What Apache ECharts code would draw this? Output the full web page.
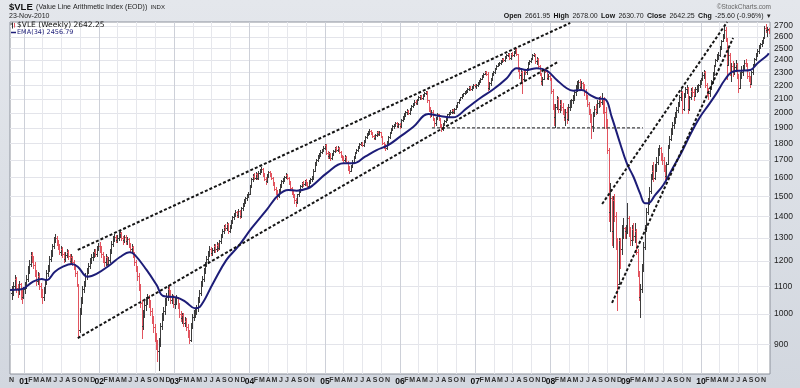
<!DOCTYPE html>
<html><head><meta charset="utf-8">
<script src="https://cdn.jsdelivr.net/npm/echarts@6.0.0/dist/echarts.min.js"></script>
<style>html,body{margin:0;padding:0;background:#dadee5}#c{width:800px;height:388px}</style>
</head><body><div id="c"></div>
<script>
// ---- weekly bars: close / high / low, one set per calendar year ----
const c2000 = [1075,1100,1130,1095,1085,1110,1070,1060,1090];
const h2000 = [1100,1118,1145,1135,1108,1122,1112,1085,1098];
const l2000 = [1052,1066,1092,1078,1062,1072,1052,1040,1055];

const c2001 = [1100,1130,1165,1190, 1225,1210,1185,1150, 1120,1140,1100,1075,1060, 1085,1120,1150,1170, 1210,1230,1265,1290,1300, 1280,1265,1240,1250, 1230,1210,1225,1240, 1220,1200,1215,1195,1180, 1150,1110,945, 1010,1050,1090,1110,1140,1160,1180,1200,1215,1225,1240,1230,1255,1265];
const h2001 = [1115,1145,1180,1205, 1240,1238,1220,1195, 1162,1155,1150,1112,1090, 1098,1130,1162,1182, 1220,1245,1275,1302,1318, 1310,1292,1272,1262, 1258,1240,1238,1252, 1248,1230,1228,1222,1205, 1188,1160,1080, 1020,1060,1100,1122,1150,1172,1192,1212,1228,1238,1252,1250,1265,1278];
const l2001 = [1075,1092,1120,1150, 1180,1195,1170,1138, 1105,1108,1090,1060,1040, 1048,1075,1108,1138, 1160,1200,1222,1255,1280, 1268,1250,1228,1225, 1218,1198,1200,1215, 1210,1190,1190,1185,1168, 1140,1100,925, 940,1000,1040,1078,1100,1130,1150,1170,1192,1205,1215,1220,1222,1248];

const c2002 = [1250,1230,1210,1195,1215,1190,1205, 1240,1275,1295,1305,1290, 1300,1315,1320,1300,1290, 1305,1285,1295,1270,1250,1260, 1230,1195,1170,1140,1100, 1040,960, 1000,1030,1045,1055,1040,1010, 980,955,925,900, 880,905, 960,990,1010,1040,1060,1090,1075,1050,1060,1035];
const h2002 = [1280,1262,1240,1222,1228,1222,1215, 1250,1285,1308,1318,1312, 1312,1325,1330,1326,1308, 1315,1312,1305,1300,1278,1272, 1265,1238,1205,1180,1150, 1108,1050, 1015,1045,1060,1070,1068,1050, 1020,992,965,935, 915,920, 970,1005,1025,1055,1075,1105,1100,1085,1072,1068];
const l2002 = [1238,1218,1195,1180,1185,1178,1182, 1198,1232,1265,1285,1280, 1282,1292,1305,1290,1275, 1282,1275,1272,1260,1238,1240, 1218,1185,1158,1125,1085, 1025,920, 950,990,1015,1035,1025,998, 970,940,912,885, 850,825, 895,950,978,1000,1030,1050,1062,1040,1038,1025];

const c2003 = [1045,1055,1030,1000,985,995,970,975,955, 935,915,960, 990,1000,1010, 1020,1050,1075, 1110,1130,1160,1185,1210, 1230,1250,1235,1245,1265,1250,1270,1255, 1285,1310,1330, 1350,1345,1365,1330,1350, 1375,1395,1410,1420,1405, 1425,1400,1440,1460, 1475,1490,1505,1515];
const h2003 = [1062,1068,1062,1038,1010,1005,1002,990,985, 965,945,970, 1000,1015,1022, 1032,1060,1085, 1120,1140,1170,1195,1220, 1242,1262,1258,1255,1275,1272,1280,1278, 1292,1318,1340, 1360,1362,1375,1370,1360, 1382,1402,1418,1430,1428, 1435,1432,1448,1468, 1485,1498,1512,1524];
const l2003 = [1022,1035,1020,990,975,970,960,958,945, 925,905,910, 952,980,990, 1000,1012,1042, 1068,1100,1122,1150,1178, 1200,1222,1225,1225,1238,1240,1242,1245, 1250,1278,1302, 1322,1335,1338,1322,1325, 1345,1368,1388,1402,1395, 1398,1392,1395,1432, 1452,1468,1482,1498];

const c2004 = [1555,1590,1610,1600, 1620,1600,1625,1640, 1650,1620,1595,1580,1610, 1630,1620,1600,1570,1540, 1525,1500,1530, 1560,1580,1590,1605,1615, 1600,1575,1545,1520,1505, 1480,1470,1510, 1530,1555,1570,1565,1580, 1570,1555,1580,1590,1600, 1640,1680,1700,1720,1735, 1750,1760,1775,1790];
const h2004 = [1562,1598,1620,1625, 1630,1628,1635,1650, 1660,1655,1628,1605,1618, 1640,1638,1625,1605,1578, 1552,1532,1538, 1568,1588,1598,1612,1625, 1620,1605,1580,1552,1528, 1510,1490,1515, 1538,1562,1578,1580,1588, 1590,1578,1585,1598,1610, 1648,1688,1708,1728,1742, 1758,1768,1782,1798];
const l2004 = [1510,1548,1582,1590, 1592,1592,1595,1618, 1630,1612,1585,1568,1575, 1602,1610,1592,1562,1532, 1512,1485,1495, 1525,1552,1572,1582,1598, 1592,1565,1538,1512,1495, 1465,1450,1465, 1502,1525,1548,1555,1558, 1562,1545,1548,1572,1580, 1595,1635,1672,1692,1712, 1725,1740,1752,1765];

const c2005 = [1745,1725,1740,1710, 1735,1755,1770,1760, 1775,1750,1725,1710,1700, 1720,1690,1655,1640, 1665,1690,1720,1745,1760, 1780,1795,1800,1790, 1815,1840,1860,1870,1880, 1865,1850,1835,1855, 1875,1860,1870,1845, 1805,1785,1770,1810, 1840,1870,1895,1910,1920, 1930,1915,1925,1910];
const h2005 = [1795,1752,1748,1745, 1742,1762,1778,1782, 1785,1780,1755,1732,1722, 1728,1725,1695,1668, 1672,1698,1725,1750,1768, 1786,1802,1810,1808, 1820,1846,1866,1878,1890, 1886,1872,1856,1862, 1882,1880,1878,1875, 1850,1812,1798,1816, 1846,1875,1900,1916,1928, 1938,1936,1932,1930];
const l2005 = [1738,1712,1715,1700, 1705,1728,1748,1752, 1755,1742,1718,1700,1690, 1695,1682,1645,1628, 1635,1660,1685,1715,1740, 1755,1772,1788,1782, 1785,1810,1835,1852,1862, 1858,1842,1828,1830, 1850,1852,1852,1838, 1798,1775,1760,1765, 1805,1835,1865,1888,1902, 1912,1908,1905,1900];

const c2006 = [1950,1975,1990,2005, 2015,2000,2030,2050, 2065,2080,2070,2095,2110, 2120,2105,2130,2140,2150, 2090,2030,1990, 2010,1960,1930,1965, 1990,1960,1920,1895,1925, 1945,1960,1990,2000, 2010,2020,2005,2030,2050, 2075,2095,2110,2125, 2140,2150,2160,2175, 2185,2175,2190,2200,2195];
const h2006 = [1958,1982,2000,2012, 2025,2022,2036,2056, 2072,2088,2090,2100,2118, 2128,2130,2136,2148,2160, 2155,2095,2040, 2022,2018,1968,1972, 1998,1995,1966,1928,1932, 1952,1968,1996,2008, 2018,2028,2026,2035,2056, 2080,2100,2116,2132, 2146,2158,2168,2180, 2192,2192,2196,2208,2210];
const l2006 = [1905,1945,1962,1980, 1995,1990,1995,2022, 2042,2058,2062,2065,2088, 2102,2098,2100,2122,2132, 2080,2015,1975, 1978,1950,1915,1922, 1958,1950,1905,1882,1888, 1918,1938,1955,1982, 1992,2002,1998,2000,2025, 2045,2070,2088,2105, 2118,2132,2142,2152, 2168,2166,2168,2182,2186];

const c2007 = [2200,2220,2235,2250, 2270,2290,2305,2290, 2180,2215,2250,2290,2300, 2330,2355,2370,2380, 2395,2410,2400,2425,2440, 2450,2420,2455,2440, 2470,2490,2450,2330, 2280,2300,2250,2310, 2300,2330,2380,2395,2410, 2440,2450,2390,2410, 2350,2290,2230,2250, 2320,2310,2260,2270,2250];
const h2007 = [2212,2228,2242,2258, 2276,2296,2312,2315, 2300,2222,2256,2296,2310, 2336,2362,2378,2388, 2402,2418,2420,2432,2448, 2460,2456,2462,2464, 2478,2502,2498,2455, 2345,2330,2310,2318, 2322,2338,2386,2402,2420, 2448,2462,2455,2425, 2418,2360,2298,2262, 2328,2335,2318,2285,2282];
const l2007 = [2180,2192,2212,2228, 2245,2265,2285,2282, 2165,2170,2205,2242,2282, 2295,2325,2348,2362, 2372,2388,2390,2395,2418, 2432,2410,2412,2430, 2435,2462,2440,2315, 2260,2230,2140,2240, 2285,2290,2322,2372,2388, 2405,2432,2380,2370, 2340,2280,2210,2200, 2245,2300,2250,2245,2240];

const c2008 = [2160,2050,1970,2040, 2100,2030,2060,2040, 2000,1970,2010,1960,2040, 2060,2090,2110,2150, 2180,2200,2225,2190,2215, 2200,2150,2120,2060, 2010,1960,1910,1990, 2030,2010,2070,2090, 2080,2100,2060,2010, 1950,1760,1420,1490, 1330,1480,1400,1290, 1110,1290,1250,1320, 1345,1330];
const h2008 = [2260,2170,2060,2060, 2120,2110,2090,2090, 2070,2030,2030,2040,2060, 2090,2100,2130,2160, 2200,2230,2240,2245,2230, 2225,2210,2170,2130, 2080,2030,1990,2010, 2050,2060,2090,2110, 2120,2140,2100,2110, 2040,1960,1770,1570, 1500,1500,1510,1420, 1300,1300,1300,1360, 1390,1350];
const l2008 = [2140,2030,1920,1906, 2030,2010,2010,2020, 1990,1950,1920,1930,1950, 2020,2040,2070,2090, 2130,2160,2180,2170,2180, 2170,2130,2100,2050, 1990,1940,1834,1880, 1980,1990,2000,2040, 2050,2060,2000,1900, 1900,1740,1380,1330, 1270,1260,1380,1250, 1014,1110,1170,1230, 1300,1300];

const c2009 = [1330,1390,1330,1290,1340,1310,1330,1240,1150,1060, 1090,1170,1260,1330,1420,1470,1530,1600,1640,1600, 1660,1690,1750,1770,1720,1700,1650,1610,1680,1780, 1830,1880,1920,1950,1990,2020,2060,2110,2150,2030, 2120,2170,2180,2030,2110,2160,2150,2120,2170,2180, 2200,2220];
const h2009 = [1360,1466,1400,1350,1360,1370,1370,1340,1250,1160, 1110,1190,1280,1360,1440,1490,1550,1620,1670,1690, 1680,1720,1770,1790,1780,1740,1720,1670,1690,1790, 1850,1900,1940,1970,2010,2040,2080,2130,2170,2160, 2140,2190,2200,2190,2120,2180,2190,2170,2190,2200, 2210,2240];
const l2009 = [1300,1320,1310,1270,1270,1290,1280,1230,1140,1050, 990,1080,1160,1250,1330,1410,1460,1520,1590,1580, 1590,1640,1680,1730,1700,1680,1640,1590,1600,1680, 1770,1820,1860,1900,1930,1970,2010,2050,2090,2000, 2020,2110,2140,2000,2020,2100,2120,2090,2120,2150, 2160,2190];

const c2010 = [2250,2280,2300,2200,2150,2140,2180,2230,2290,2350, 2400,2430,2440,2500,2560,2600,2660,2580,2360,2440, 2300,2350,2300,2340,2370,2270,2180,2290,2300,2340, 2380,2370,2270,2250,2210,2300,2360,2410,2450,2480, 2520,2540,2560,2590,2680,2660,2667.85,2642.25];
const h2010 = [2260,2300,2320,2310,2220,2180,2190,2240,2300,2360, 2410,2450,2470,2520,2570,2630,2710,2690,2590,2500, 2460,2380,2390,2380,2400,2380,2290,2300,2350,2360, 2400,2410,2380,2300,2270,2310,2370,2420,2460,2490, 2530,2550,2570,2600,2700,2715,2690,2678];
const l2010 = [2210,2240,2260,2190,2130,2100,2120,2170,2220,2280, 2350,2390,2410,2430,2490,2560,2590,2560,2250,2380, 2280,2230,2270,2290,2310,2260,2150,2180,2260,2280, 2320,2350,2260,2230,2190,2210,2290,2350,2400,2430, 2460,2500,2520,2550,2590,2640,2610,2630.7];

// first weekly bar (Friday) of each year block
const YEAR_BLOCKS = [
  ['2000-11-03', c2000, h2000, l2000], ['2001-01-05', c2001, h2001, l2001],
  ['2002-01-04', c2002, h2002, l2002], ['2003-01-03', c2003, h2003, l2003],
  ['2004-01-02', c2004, h2004, l2004], ['2005-01-07', c2005, h2005, l2005],
  ['2006-01-06', c2006, h2006, l2006], ['2007-01-05', c2007, h2007, l2007],
  ['2008-01-04', c2008, h2008, l2008], ['2009-01-02', c2009, h2009, l2009],
  ['2010-01-01', c2010, h2010, l2010]
];
const lastOpen = 2661.95;

// ---- EMA(34) ----
const emaDates = ['2000-10-25','2000-12-20','2001-02-14','2001-03-28','2001-04-21','2001-05-31','2001-07-09','2001-08-20','2001-09-19','2001-11-06','2001-12-19',
 '2002-02-22','2002-04-12','2002-05-30','2002-06-23','2002-08-19','2002-10-07','2002-11-08','2003-01-12','2003-02-26','2003-04-11','2003-05-05','2003-07-08',
 '2003-09-11','2003-11-06','2004-01-11','2004-03-24','2004-05-20','2004-07-07','2004-08-17','2004-10-12','2004-11-05','2005-01-10','2005-04-01','2005-05-19',
 '2005-07-15','2005-09-09','2005-11-04','2006-01-01','2006-03-07','2006-05-18','2006-07-14','2006-09-16','2006-11-20','2007-01-24','2007-03-30','2007-06-03',
 '2007-07-21','2007-09-08','2007-10-27','2007-12-14','2008-02-01','2008-03-20','2008-04-21','2008-06-01','2008-07-11','2008-08-13','2008-09-22','2008-10-24',
 '2008-12-04','2009-01-06','2009-02-07','2009-03-11','2009-04-04','2009-04-20','2009-05-23','2009-07-02','2009-08-12','2009-09-30','2009-11-17','2009-12-28',
 '2010-02-06','2010-03-17','2010-04-26','2010-06-04','2010-07-12','2010-08-29','2010-10-01','2010-11-19','2010-11-26'];
const emaValues = [1086,1089,1118,1128,1124,1157,1177,1188,1177,1137,1148,
 1184,1217,1237,1226,1164,1105,1064,1059,1042,1020,1025,1112,
 1205,1261,1344,1432,1507,1534,1530,1543,1560,1625,1681,1681,
 1720,1760,1790,1843,1907,1993,1979,1970,2032,2104,2170,2255,
 2334,2320,2334,2314,2241,2178,2160,2165,2128,2104,2097,1975,
 1802,1681,1605,1516,1465,1465,1507,1560,1643,1750,1875,1974,
 2055,2140,2241,2306,2314,2320,2372,2440,2456.79];

// ---- hand-drawn trend lines (endpoints: date, value) ----
const channelLines = [
  [['2001-09-19', 1247], ['2008-04-06', 2728]],
  [['2001-09-19', 920],  ['2008-02-06', 2384]],
  [['2008-09-08', 1461], ['2010-05-08', 2737]],
  [['2008-10-26', 1039], ['2010-06-06', 2590]]
];
const supportLine = [['2006-06-05', 1900], ['2009-03-25', 1900]];

// ---- axis ticks ----
const yTickValues = [900,1000,1100,1200,1300,1400,1500,1600,1700,1800,1900,2000,2100,2200,2300,2400,2500,2600,2700];
const monthLetters = ['J','F','M','A','M','J','J','A','S','O','N','D'];
const skipMonths = ['2000-12','2004-12','2005-12','2006-12','2009-12','2010-12'];

const xMin = Date.UTC(2000, 9, 25), xMax = Date.UTC(2010, 11, 2);
const yMin = 813, yMax = 2737;

const DAY = 86400000;
const barData = [];
let prevClose = null;
YEAR_BLOCKS.forEach(([first, cs, hs, ls], yi) => {
  const t0 = Date.parse(first);
  cs.forEach((c, k) => {
    let o = prevClose == null ? c : prevClose;
    if (yi === YEAR_BLOCKS.length - 1 && k === cs.length - 1) o = lastOpen;
    const up = prevClose == null ? 1 : (c >= prevClose ? 1 : 0);
    const hi = Math.max(hs[k], o, c), lo = Math.min(ls[k], o, c);
    barData.push([t0 + k * 7 * DAY, o, c, lo, hi, up]);
    prevClose = c;
  });
});
const emaData = emaDates.map((d, i) => [Date.parse(d), emaValues[i]]);

const monthTicks = [], quarterTicks = [], yearTicks = [];
for (let y = 2000; y <= 2010; y++) {
  for (let m = 0; m < 12; m++) {
    const t = Date.UTC(y, m, 1);
    if (t < xMin || t > xMax) continue;
    const key = y + '-' + String(m + 1).padStart(2, '0');
    if (skipMonths.indexOf(key) < 0) monthTicks.push(t);
    if (m === 0) yearTicks.push(t);
    else if (m % 3 === 0) quarterTicks.push(t);
  }
}

const UP = '#3c3c3c', DOWN = '#e2545f';
const FONT = 'Liberation Sans, Arial, sans-serif';

const chart = echarts.init(document.getElementById('c'), null, {renderer: 'canvas'});
const gridAxis = (ticks, color) => ({
  type: 'value', min: xMin, max: xMax, gridIndex: 0,
  axisLine: {show: false},
  axisTick: {show: false, customValues: ticks},
  axisLabel: {show: false, customValues: ticks},
  splitLine: {show: true, lineStyle: {color: color, width: 1}}
});

function renderOHLC(params, api) {
  const t = api.value(0);
  const pO = api.coord([t, api.value(1)]);
  const pC = api.coord([t, api.value(2)]);
  const pL = api.coord([t, api.value(3)]);
  const pH = api.coord([t, api.value(4)]);
  const color = api.value(5) ? UP : DOWN;
  const x = Math.round(pH[0]) + 0.5;
  const yo = Math.round(pO[1]) + 0.5, yc = Math.round(pC[1]) + 0.5;
  const st = {stroke: color, lineWidth: 1};
  return {type: 'group', children: [
    {type: 'line', shape: {x1: x, y1: Math.round(pH[1]), x2: x, y2: Math.round(pL[1]) + 1}, style: st},
    {type: 'line', shape: {x1: x - 1.5, y1: yo, x2: x, y2: yo}, style: st},
    {type: 'line', shape: {x1: x, y1: yc, x2: x + 1.5, y2: yc}, style: st}
  ]};
}

chart.setOption({
  animation: false,
  backgroundColor: {type: 'linear', x: 0, y: 0, x2: 0, y2: 1,
    colorStops: [{offset: 0, color: '#e4e7ec'}, {offset: 1, color: '#d2d7df'}]},
  textStyle: {fontFamily: FONT},
  grid: {left: 10, right: 30, top: 22, bottom: 14, show: true, backgroundColor: '#ffffff',
    borderColor: '#8d929c', borderWidth: 1, containLabel: false, outerBoundsMode: 'none'},
  xAxis: [
    {
      type: 'value', min: xMin, max: xMax,
      axisLine: {show: false},
      axisTick: {show: false, customValues: monthTicks},
      splitLine: {show: false},
      axisLabel: {
        customValues: monthTicks, margin: 3, showMinLabel: true, showMaxLabel: true, hideOverlap: false,
        formatter: function (v) {
          const d = new Date(v);
          const m = d.getUTCMonth();
          return m === 0 ? '{y|' + String(d.getUTCFullYear()).slice(2) + '}' : '{m|' + monthLetters[m] + '}';
        },
        rich: {
          y: {fontFamily: FONT, fontWeight: 'bold', fontSize: 8.5, color: '#111'},
          m: {fontFamily: FONT, fontWeight: 'bold', fontSize: 7, color: '#333'}
        }
      }
    },
    gridAxis(quarterTicks, '#e6e7ec'),
    gridAxis(yearTicks, '#cdd0d8')
  ],
  yAxis: {
    type: 'log', logBase: 10, min: yMin, max: yMax, position: 'right',
    axisLine: {show: false},
    axisTick: {show: false, customValues: yTickValues},
    axisLabel: {customValues: yTickValues, margin: 4, fontSize: 8.5, color: '#222', fontFamily: FONT,
      formatter: v => String(Math.round(v))},
    splitLine: {show: true, lineStyle: {color: '#e3e4ea', width: 1}}
  },
  series: [
    {
      type: 'custom', xAxisIndex: 0, yAxisIndex: 0, data: barData, renderItem: renderOHLC,
      encode: {x: 0, y: [1, 2, 3, 4]}, clip: true, silent: true, z: 2
    },
    {
      type: 'line', data: emaData, smooth: 0.4, symbol: 'none', silent: true,
      lineStyle: {color: '#1d1d78', width: 2}, z: 3
    },
    {
      type: 'line', data: supportLine.map(p => [Date.parse(p[0]), p[1]]), symbol: 'none', silent: true,
      lineStyle: {color: '#444', width: 1.2, type: [3, 2]}, z: 4
    }
  ].concat(channelLines.map(seg => ({
    type: 'line', data: seg.map(p => [Date.parse(p[0]), p[1]]), symbol: 'none', silent: true,
    lineStyle: {color: '#151515', width: 2, type: [3, 2]}, z: 4
  }))),
  graphic: [
    {type: 'text', x: 9, y: 7, style: {text: '{a|$VLE} {b|(Value Line Arithmetic Index (EOD))} {c|INDX}', verticalAlign: 'middle',
      rich: {a: {font: 'bold 9.5px ' + FONT, fill: '#111'}, b: {font: '7px ' + FONT, fill: '#222'}, c: {font: '6px ' + FONT, fill: '#222'}}}},
    {type: 'text', x: 9, y: 16, style: {text: '23-Nov-2010', font: '7px ' + FONT, fill: '#222', verticalAlign: 'middle'}},
    {type: 'text', x: 771, y: 7, style: {text: '\u00A9StockCharts.com', font: '6.5px ' + FONT, fill: '#666', align: 'right', verticalAlign: 'middle'}},
    {type: 'text', x: 771, y: 16, style: {
      text: '{k|Open} {v|2661.95} {k|High} {v|2678.00} {k|Low} {v|2630.70} {k|Close} {v|2642.25} {k|Chg} {v|-25.60 (-0.96%)} {v|\u25BE}',
      align: 'right', verticalAlign: 'middle',
      rich: {k: {font: 'bold 7px ' + FONT, fill: '#111'}, v: {font: '7px ' + FONT, fill: '#222'}}}},
    {type: 'line', shape: {x1: 12.5, y1: 22.5, x2: 12.5, y2: 28.5}, style: {stroke: '#333', lineWidth: 1}, z: 10},
    {type: 'line', shape: {x1: 10.5, y1: 24, x2: 12.5, y2: 24}, style: {stroke: '#333', lineWidth: 1}, z: 10},
    {type: 'line', shape: {x1: 14.5, y1: 23, x2: 14.5, y2: 27.5}, style: {stroke: DOWN, lineWidth: 1}, z: 10},
    {type: 'text', x: 17, y: 25.5, z: 10, style: {text: '$VLE (Weekly) 2642.25', font: '7.5px DejaVu Sans', fill: '#111', verticalAlign: 'middle'}},
    {type: 'line', shape: {x1: 11, y1: 32.5, x2: 16, y2: 32.5}, style: {stroke: '#1d1d78', lineWidth: 1.5}, z: 10},
    {type: 'text', x: 17, y: 32.5, z: 10, style: {text: 'EMA(34) 2456.79', font: '6.5px DejaVu Sans', fill: '#1d1d78', verticalAlign: 'middle'}}
  ]
});
</script></body></html>
